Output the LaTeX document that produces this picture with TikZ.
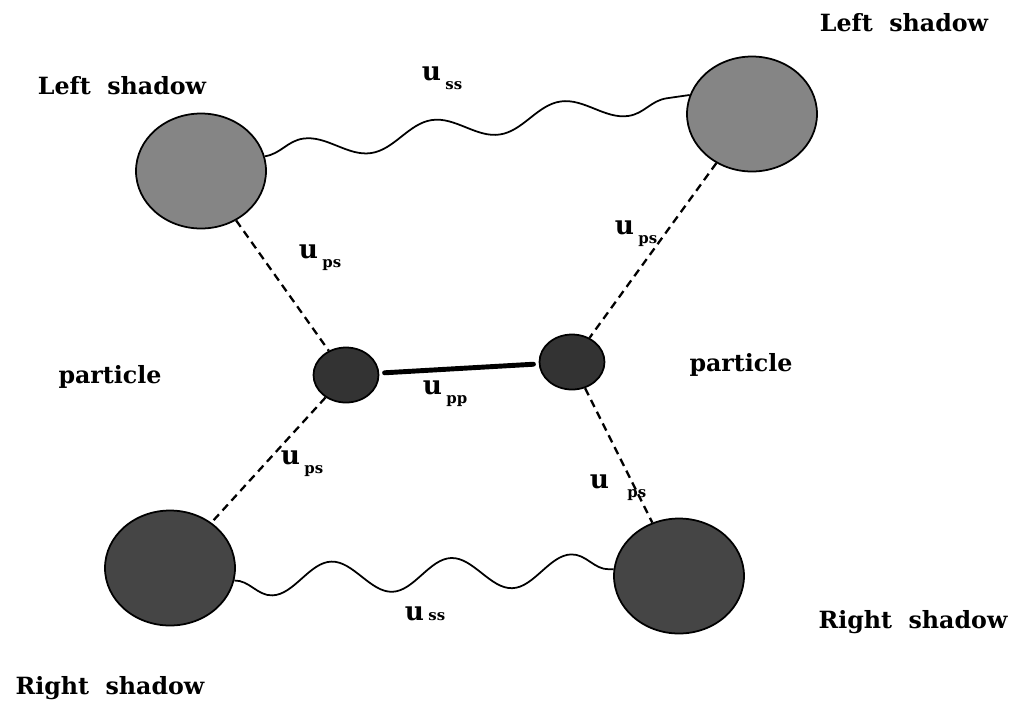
\documentclass[tikz,border=0pt]{standalone}
\usepackage{amsmath,amssymb}
\usepackage{xcolor}
\usepackage{fontspec}
\usepackage{tikz}
\usetikzlibrary{shapes.geometric,decorations.pathmorphing}

\newfontfamily\labelfont{DejaVu Serif}
\newcommand{\potlabel}[2][\,]{u#1\raisebox{-5pt}{\fontsize{8.5}{9}\selectfont #2}}

\definecolor{shadowlight}{gray}{0.52}
\definecolor{shadowdark}{gray}{0.27}
\definecolor{partfill}{gray}{0.2}

\tikzset{
  shadowball/.style={ellipse, draw, line width=1pt, inner sep=0pt,
    minimum width=26mm, minimum height=23mm},
  particle/.style={ellipse, draw, line width=1pt, fill=partfill, inner sep=0pt,
    minimum width=13mm, minimum height=11mm},
  tag/.style={font=\labelfont\bfseries\fontsize{13.5}{16}\selectfont},
  pot/.style={font=\labelfont\bfseries\fontsize{15}{18}\selectfont},
  wave/.style={line width=1pt, decorate,
    decoration={snake, segment length=26mm, amplitude=2.4mm}},
  link/.style={line width=1.3pt, dash pattern=on 4.5pt off 3pt},
}

\begin{document}
\begin{tikzpicture}[x=0.2mm,y=-0.2mm]
  \useasboundingbox (0,0) rectangle (1026,709);
  % shadows and particles
  \node[shadowball, fill=shadowlight] (tls) at (201,171) {};
  \node[shadowball, fill=shadowlight] (trs) at (752,114) {};
  \node[shadowball, fill=shadowdark] (bls) at (170,568) {};
  \node[shadowball, fill=shadowdark] (brs) at (679,576) {};
  \node[particle] (lp) at (346,375) {};
  \node[particle] (rp) at (572,362) {};
  % interactions
  \draw[wave] (tls.13) -- (trs.163);
  \draw[wave, decoration={mirror, segment length=24mm, amplitude=3.2mm}] (bls.-11) -- (brs.174);
  \draw[line width=2.8pt, line cap=round, shorten <=3pt, shorten >=3pt] (lp) -- (rp);
  \draw[link] (tls) -- (lp);
  \draw[link] (trs) -- (rp);
  \draw[link] (lp) -- (bls);
  \draw[link] (rp) -- (brs);
  % labels
  \node[tag] (tlname) at (122,86) {Left\ \ shadow};
  \node[tag] (trname) at (904,23) {Left\ \ shadow};
  \node[tag] (lpname) at (110,377) {particle};
  \node[tag] (rpname) at (741,365) {particle};
  \node[tag] (brname) at (913,622) {Right\ \ shadow};
  \node[tag] (blname) at (110,688) {Right\ \ shadow};
  \node[pot] (usstop) at (442,78) {\potlabel{ss}};
  \node[pot] (upstl) at (320,258) {\potlabel{ps}};
  \node[pot] (upstr) at (636,234) {\potlabel{ps}};
  \node[pot] (upp) at (445,394) {\potlabel{pp}};
  \node[pot] (upsbl) at (302,464) {\potlabel{ps}};
  \node[pot] (upsbr) at (618,488) {\potlabel[\ \ ]{ps}};
  \node[pot] (ussbot) at (425,614) {u\,{\fontsize{8.5}{9}\selectfont ss}};
\end{tikzpicture}
\end{document}
